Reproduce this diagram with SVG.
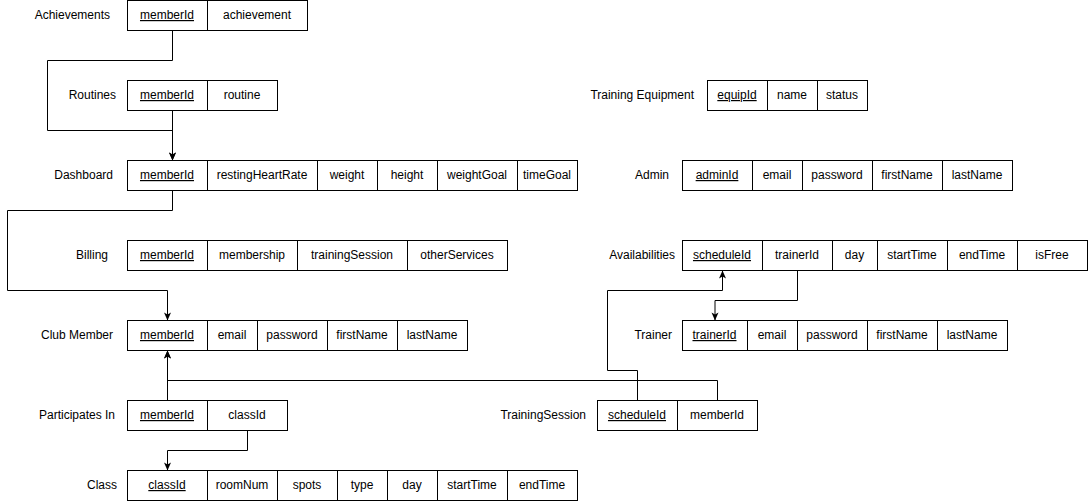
<svg xmlns="http://www.w3.org/2000/svg" width="1088" height="501" viewBox="0 0 1088 501">
<style>
text{font-family:"Liberation Sans",Arial,sans-serif;font-size:12px;fill:#000}
.c{text-anchor:middle}
.l{text-anchor:end}
.pk{text-decoration:underline}
.b{fill:#fff;stroke:#000;stroke-width:1}
.d{stroke:#000;stroke-width:1}
.e{fill:none;stroke:#000;stroke-width:1;marker-end:url(#arr)}
</style>
<defs>
<marker id="arr" markerUnits="userSpaceOnUse" markerWidth="10" markerHeight="8" refX="8" refY="3.5" orient="auto" overflow="visible">
<path d="M0,0 L8,3.5 L0,7 L2,3.5 Z" fill="#000"/>
</marker>
</defs>
<rect width="1088" height="501" fill="#fff"/>
<g id="connectors">
<path class="e" d="M172.5,30.5 V60.5 H47.5 V130.5 H172.5 V160.5"/>
<path class="e" d="M172.5,110.5 V160.5"/>
<path class="e" d="M172.5,190.5 V210.5 H7.5 V290.5 H167.5 V320.5"/>
<path class="e" d="M167.5,400.5 V350.5"/>
<path class="e" d="M717.5,400.5 V380.5 H167.5 V350.5"/>
<path class="e" d="M637.5,400.5 V370.5 H607.5 V290.5 H722.5 V270.5"/>
<path class="e" d="M797.5,270.5 V300.5 H715 V320.5"/>
<path class="e" d="M247.5,430.5 V450.5 H167.5 V470.5"/>
</g>
<g id="achievements">
<text class="l" x="110" y="19">Achievements</text>
<rect class="b" x="127.5" y="0.5" width="180" height="30"/>
<line class="d" x1="207.5" y1="0.5" x2="207.5" y2="30.5"/>
<text class="c pk" x="167" y="19">memberId</text>
<text class="c" x="257" y="19">achievement</text>
</g>
<g id="routines">
<text class="l" x="116" y="99">Routines</text>
<rect class="b" x="127.5" y="80.5" width="150" height="30"/>
<line class="d" x1="207.5" y1="80.5" x2="207.5" y2="110.5"/>
<text class="c pk" x="167" y="99">memberId</text>
<text class="c" x="242" y="99">routine</text>
</g>
<g id="dashboard">
<text class="l" x="113" y="179">Dashboard</text>
<rect class="b" x="127.5" y="160.5" width="450" height="30"/>
<path class="d" d="M207.5,160.5V190.5M317.5,160.5V190.5M377.5,160.5V190.5M437.5,160.5V190.5M517.5,160.5V190.5"/>
<text class="c pk" x="167" y="179">memberId</text>
<text class="c" x="262" y="179">restingHeartRate</text>
<text class="c" x="347" y="179">weight</text>
<text class="c" x="407" y="179">height</text>
<text class="c" x="477" y="179">weightGoal</text>
<text class="c" x="547" y="179">timeGoal</text>
</g>
<g id="billing">
<text class="l" x="108" y="259">Billing</text>
<rect class="b" x="127.5" y="240.5" width="380" height="30"/>
<path class="d" d="M207.5,240.5V270.5M297.5,240.5V270.5M407.5,240.5V270.5"/>
<text class="c pk" x="167" y="259">memberId</text>
<text class="c" x="252" y="259">membership</text>
<text class="c" x="352" y="259">trainingSession</text>
<text class="c" x="457" y="259">otherServices</text>
</g>
<g id="club-member">
<text class="l" x="113" y="339">Club Member</text>
<rect class="b" x="127.5" y="320.5" width="340" height="30"/>
<path class="d" d="M207.5,320.5V350.5M257.5,320.5V350.5M327.5,320.5V350.5M397.5,320.5V350.5"/>
<text class="c pk" x="167" y="339">memberId</text>
<text class="c" x="232" y="339">email</text>
<text class="c" x="292" y="339">password</text>
<text class="c" x="362" y="339">firstName</text>
<text class="c" x="432" y="339">lastName</text>
</g>
<g id="participates-in">
<text class="l" x="115" y="419">Participates In</text>
<rect class="b" x="127.5" y="400.5" width="160" height="30"/>
<line class="d" x1="207.5" y1="400.5" x2="207.5" y2="430.5"/>
<text class="c pk" x="167" y="419">memberId</text>
<text class="c" x="247" y="419">classId</text>
</g>
<g id="class">
<text class="l" x="117" y="489">Class</text>
<rect class="b" x="127.5" y="470.5" width="450" height="30"/>
<path class="d" d="M207.5,470.5V500.5M277.5,470.5V500.5M337.5,470.5V500.5M387.5,470.5V500.5M437.5,470.5V500.5M507.5,470.5V500.5"/>
<text class="c pk" x="167" y="489">classId</text>
<text class="c" x="242" y="489">roomNum</text>
<text class="c" x="307" y="489">spots</text>
<text class="c" x="362" y="489">type</text>
<text class="c" x="412" y="489">day</text>
<text class="c" x="472" y="489">startTime</text>
<text class="c" x="542" y="489">endTime</text>
</g>
<g id="training-equipment">
<text class="l" x="694" y="99">Training Equipment</text>
<rect class="b" x="707.5" y="80.5" width="160" height="30"/>
<path class="d" d="M767.5,80.5V110.5M817.5,80.5V110.5"/>
<text class="c pk" x="737" y="99">equipId</text>
<text class="c" x="792" y="99">name</text>
<text class="c" x="842" y="99">status</text>
</g>
<g id="admin">
<text class="l" x="669" y="179">Admin</text>
<rect class="b" x="682.5" y="160.5" width="330" height="30"/>
<path class="d" d="M752.5,160.5V190.5M802.5,160.5V190.5M872.5,160.5V190.5M942.5,160.5V190.5"/>
<text class="c pk" x="717" y="179">adminId</text>
<text class="c" x="777" y="179">email</text>
<text class="c" x="837" y="179">password</text>
<text class="c" x="907" y="179">firstName</text>
<text class="c" x="977" y="179">lastName</text>
</g>
<g id="availabilities">
<text class="l" x="675" y="259">Availabilities</text>
<rect class="b" x="682.5" y="240.5" width="405" height="30"/>
<path class="d" d="M762.5,240.5V270.5M832.5,240.5V270.5M877.5,240.5V270.5M947.5,240.5V270.5M1017.5,240.5V270.5"/>
<text class="c pk" x="722" y="259">scheduleId</text>
<text class="c" x="797" y="259">trainerId</text>
<text class="c" x="854.5" y="259">day</text>
<text class="c" x="912" y="259">startTime</text>
<text class="c" x="982" y="259">endTime</text>
<text class="c" x="1052" y="259">isFree</text>
</g>
<g id="trainer">
<text class="l" x="672" y="339">Trainer</text>
<rect class="b" x="682.5" y="320.5" width="325" height="30"/>
<path class="d" d="M747.5,320.5V350.5M797.5,320.5V350.5M867.5,320.5V350.5M937.5,320.5V350.5"/>
<text class="c pk" x="714.5" y="339">trainerId</text>
<text class="c" x="772" y="339">email</text>
<text class="c" x="832" y="339">password</text>
<text class="c" x="902" y="339">firstName</text>
<text class="c" x="972" y="339">lastName</text>
</g>
<g id="training-session">
<text class="l" x="586" y="419">TrainingSession</text>
<rect class="b" x="597.5" y="400.5" width="160" height="30"/>
<line class="d" x1="677.5" y1="400.5" x2="677.5" y2="430.5"/>
<text class="c pk" x="637" y="419">scheduleId</text>
<text class="c" x="717" y="419">memberId</text>
</g>
</svg>
